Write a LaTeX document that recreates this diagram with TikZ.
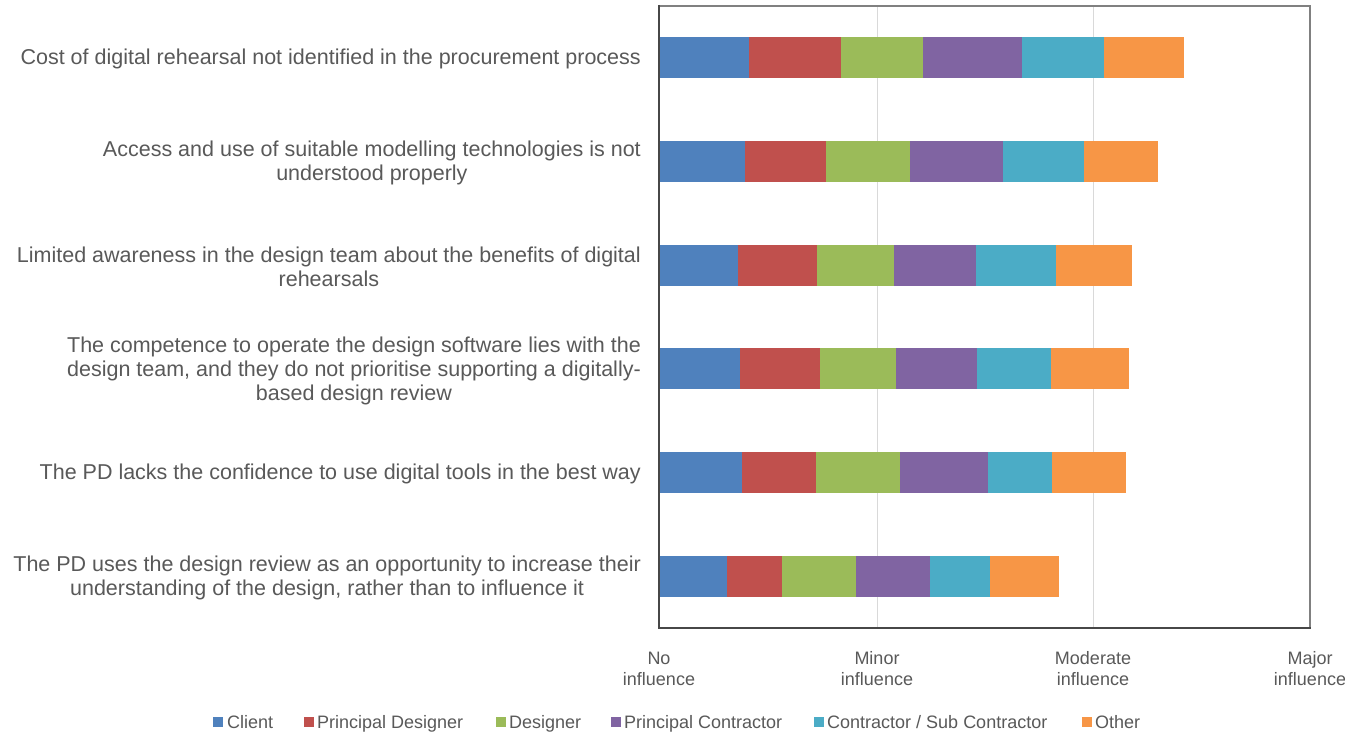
\documentclass[tikz,border=0pt]{standalone}
\usepackage{fontspec}
\setmainfont{Liberation Sans}
\definecolor{txt}{HTML}{595959}
\definecolor{cClient}{HTML}{4F81BD}
\definecolor{cPD}{HTML}{C0504D}
\definecolor{cDes}{HTML}{9BBB59}
\definecolor{cPC}{HTML}{8064A2}
\definecolor{cCSC}{HTML}{4BACC6}
\definecolor{cOth}{HTML}{F79646}
\definecolor{grid}{HTML}{D9D9D9}
\definecolor{frame}{HTML}{808080}
\tikzset{
  catlabel/.style={anchor=east, inner sep=0pt, align=center, text=txt, font=\fontsize{21.5}{24}\selectfont},
  axlabel/.style={anchor=center, inner sep=0pt, align=center, text=txt, font=\fontsize{18}{21}\selectfont},
  leglabel/.style={anchor=base west, inner sep=0pt, text=txt, font=\fontsize{18}{21}\selectfont},
  legbox/.style={minimum size=10pt, inner sep=0pt, anchor=center}
}
\newcommand{\barrow}[7]{%
  % #1 = centre y, #2..#7 = cumulative right ends
  \fill[cClient] (659,#1-20.5) rectangle (#2,#1+20.5);
  \fill[cPD]     (#2,#1-20.5) rectangle (#3,#1+20.5);
  \fill[cDes]    (#3,#1-20.5) rectangle (#4,#1+20.5);
  \fill[cPC]     (#4,#1-20.5) rectangle (#5,#1+20.5);
  \fill[cCSC]    (#5,#1-20.5) rectangle (#6,#1+20.5);
  \fill[cOth]    (#6,#1-20.5) rectangle (#7,#1+20.5);
}
\begin{document}
\begin{tikzpicture}[x=1pt,y=-1pt]
\useasboundingbox (0,0) rectangle (1345,733);
\fill[white] (0,0) rectangle (1345,733);
% gridlines
\draw[grid, line width=1pt] (877,6) -- (877,628);
\draw[grid, line width=1pt] (1093,6) -- (1093,628);
% bars
\barrow{57.8}{749.2}{840.6}{923.2}{1022.0}{1104.0}{1184.2}
\barrow{161.5}{745.1}{826.3}{910.1}{1002.5}{1083.7}{1158.1}
\barrow{265.2}{738.4}{816.8}{894.4}{975.5}{1056.1}{1132.4}
\barrow{368.9}{739.7}{820.4}{896.2}{977.3}{1050.9}{1128.8}
\barrow{472.6}{741.9}{815.9}{900.3}{988.2}{1052.2}{1125.6}
\barrow{576.3}{726.6}{781.6}{855.6}{929.5}{990.4}{1058.9}
% frame
\draw[frame, line width=1.5pt] (659,6) -- (1310,6) -- (1310,628);
\draw[txt!80!black, line width=2pt] (659,5) -- (659,628) -- (1311,628);
% category labels
\node[catlabel] (c1) at (641,59.3) {Cost of digital rehearsal not identified in the procurement process};
\node[catlabel] (c2) at (641,163) {Access and use of suitable modelling technologies is not\\understood properly};
\node[catlabel] (c3) at (641,266.7) {Limited awareness in the design team about the benefits of digital\\rehearsals};
\node[catlabel] (c4) at (641,370.6) {The competence to operate the design software lies with the\\design team, and they do not prioritise supporting a digitally-\\based design review};
\node[catlabel] (c5) at (641,474.1) {The PD lacks the confidence to use digital tools in the best way};
\node[catlabel] (c6) at (641,577.8) {The PD uses the design review as an opportunity to increase their\\understanding of the design, rather than to influence it};
% axis labels
\node[axlabel] (a0) at (659,668.5) {No\\influence};
\node[axlabel] (a1) at (877,668.5) {Minor\\influence};
\node[axlabel] (a2) at (1093,668.5) {Moderate\\influence};
\node[axlabel] (a3) at (1310,668.5) {Major\\influence};
% legend
\node[legbox, fill=cClient] (l1b) at (218,722) {};
\node[leglabel] (l1) at (227,728.5) {Client};
\node[legbox, fill=cPD] (l2b) at (309,722) {};
\node[leglabel] (l2) at (317,728.5) {Principal Designer};
\node[legbox, fill=cDes] (l3b) at (501,722) {};
\node[leglabel] (l3) at (509,728.5) {Designer};
\node[legbox, fill=cPC] (l4b) at (616,722) {};
\node[leglabel] (l4) at (624,728.5) {Principal Contractor};
\node[legbox, fill=cCSC] (l5b) at (819,722) {};
\node[leglabel] (l5) at (827,728.5) {Contractor / Sub Contractor};
\node[legbox, fill=cOth] (l6b) at (1087,722) {};
\node[leglabel] (l6) at (1095,728.5) {Other};
\end{tikzpicture}
\end{document}
